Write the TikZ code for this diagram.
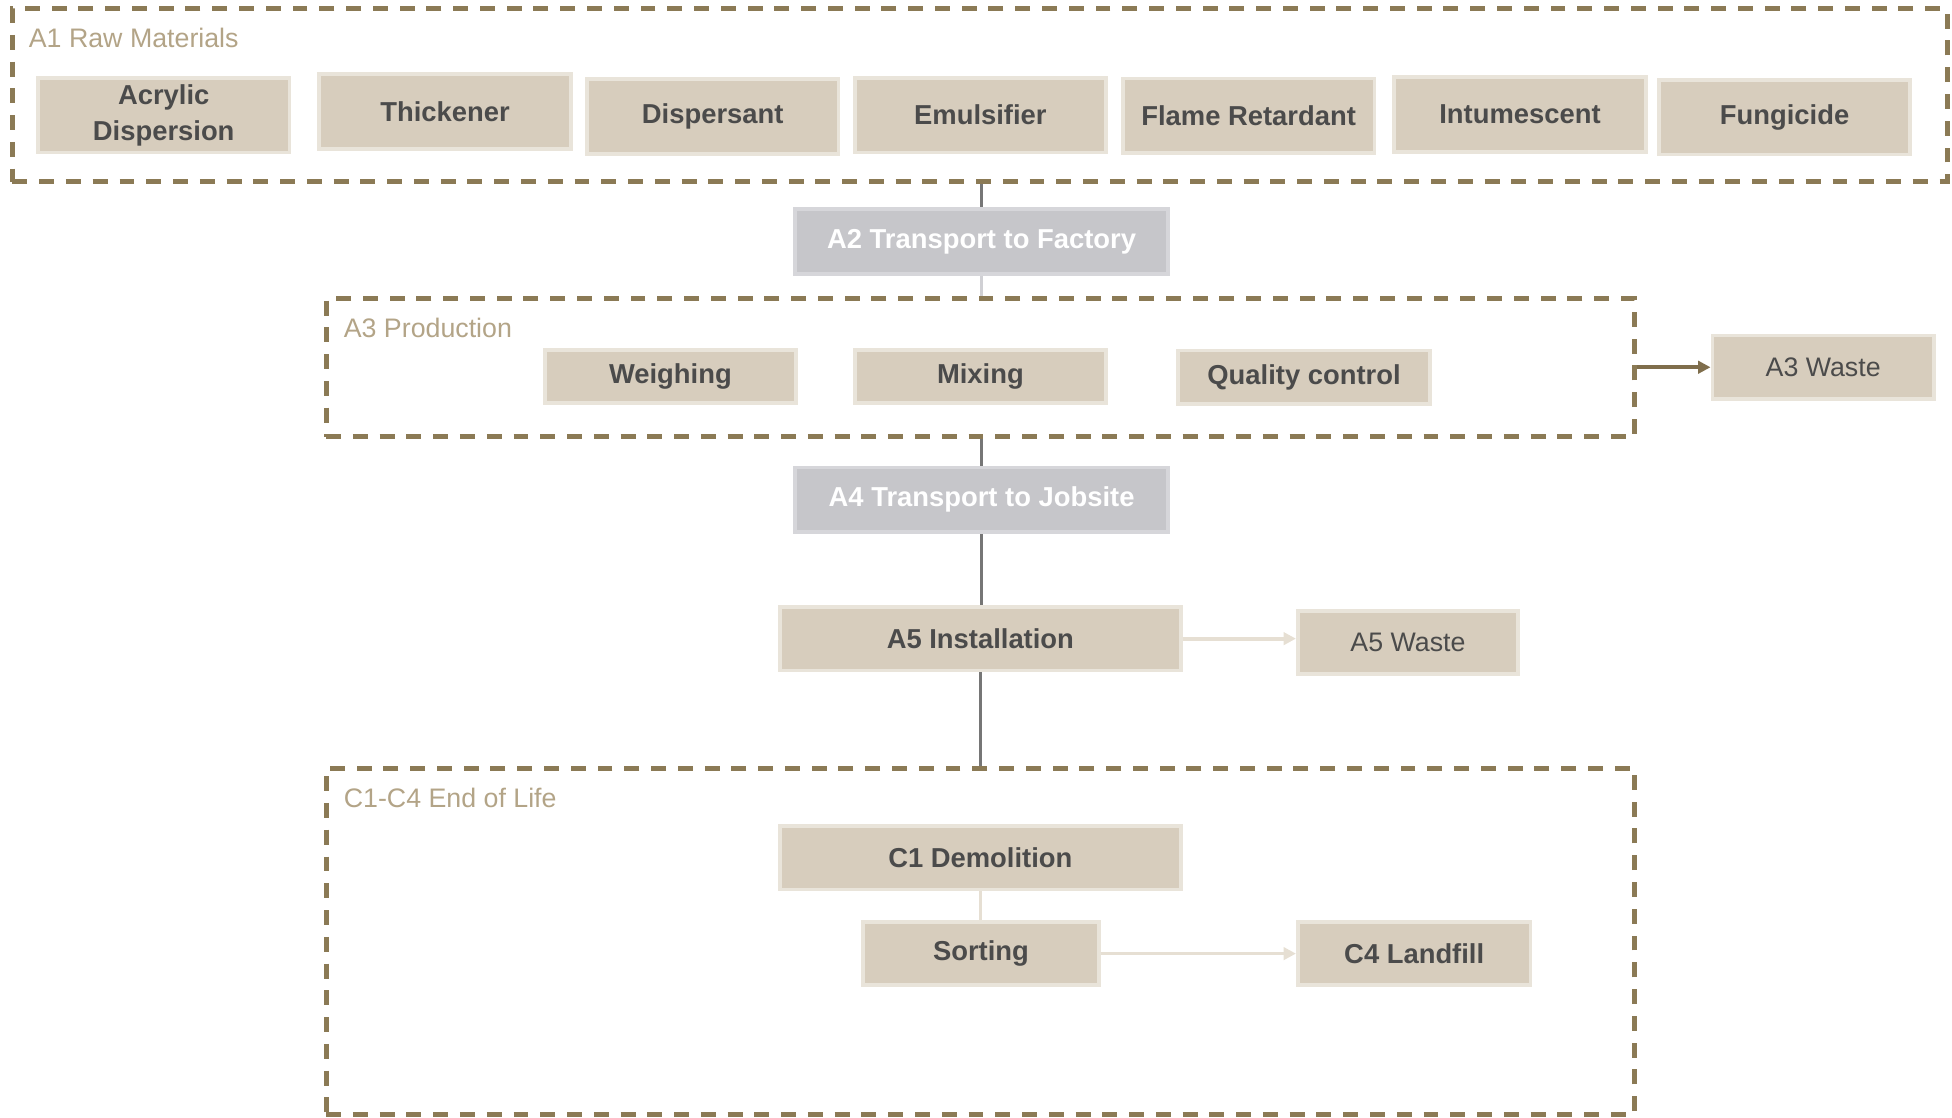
\documentclass[tikz,border=0pt]{standalone}
\usepackage{fontspec}
\setmainfont{Liberation Sans}
\usetikzlibrary{arrows.meta,backgrounds}
\definecolor{frameC}{HTML}{8B7A55}
\definecolor{labelC}{HTML}{B3A487}
\definecolor{boxfill}{HTML}{D7CDBD}
\definecolor{boxedge}{HTML}{E9E4DA}
\definecolor{textdark}{HTML}{4B4B4B}
\definecolor{grayfill}{HTML}{C6C6CA}
\definecolor{grayedge}{HTML}{D6D6DA}
\definecolor{darkline}{HTML}{767676}
\definecolor{lightgrayline}{HTML}{D0D0D4}
\definecolor{lighttanline}{HTML}{E6DFD3}
\definecolor{wasteline}{HTML}{7F6E4C}
\tikzset{
  frame/.style={draw=frameC, line width=4pt, dash pattern=on 12pt off 9.5pt, inner sep=0pt},
  framelabel/.style={anchor=base west, text=labelC, inner sep=0pt, font=\fontsize{21.5}{24}\selectfont},
  basebox/.style={draw=boxedge, fill=boxfill, line width=3pt, inner sep=0pt, align=center, text=textdark},
  matbox/.style={basebox, font=\bfseries\fontsize{22}{29}\selectfont, minimum width=202pt, minimum height=60pt},
  boldbox/.style={basebox, font=\bfseries\fontsize{22}{29}\selectfont},
  wastebox/.style={basebox, font=\fontsize{21.5}{24}\selectfont},
  graybox/.style={draw=grayedge, fill=grayfill, line width=3pt, inner sep=0pt, text=white, font=\bfseries\fontsize{22}{24}\selectfont, minimum width=300pt, minimum height=52pt},
  darkconn/.style={draw=darkline, line width=3pt},
  lightconn/.style={draw=lightgrayline, line width=3pt},
  tanconn/.style={draw=lighttanline, line width=3pt, -{Triangle[length=10pt,width=10pt]}},
  tanplain/.style={draw=lighttanline, line width=2pt},
  wasteconn/.style={draw=wasteline, line width=3pt, -{Triangle[length=10pt,width=10pt]}}
}
\begin{document}
\begin{tikzpicture}[x=1pt,y=-1pt]
\useasboundingbox (0,0) rectangle (1568,898);
% frames
\node[frame, minimum width=1554pt, minimum height=139pt] (A1) at (787,76.5) {};
\node[framelabel] (A1l) at (23,38) {A1 Raw Materials};
\node[frame, minimum width=1051pt, minimum height=111pt] (A3) at (787.5,295.5) {};
\node[framelabel] (A3l) at (276,271) {A3 Production};
\node[frame, minimum width=1051pt, minimum height=278pt] (C) at (787.5,756) {};
\node[framelabel] (Cl) at (276,649) {C1-C4 End of Life};
% raw materials
\node[matbox] (acr) at (131.5,92.5) {Acrylic\\Dispersion};
\node[matbox] (thi) at (357.5,89.5) {Thickener};
\node[matbox] (dis) at (572.5,93.5) {Dispersant};
\node[matbox] (emu) at (787.5,92.5) {Emulsifier};
\node[matbox] (fla) at (1003,93) {Flame Retardant};
\node[matbox] (int) at (1221,92) {Intumescent};
\node[matbox] (fun) at (1433.5,94) {Fungicide};
% transport
\node[graybox] (A2) at (788.5,194) {A2 Transport to Factory};
\node[graybox] (A4) at (788.5,401.5) {A4 Transport to Jobsite};
% production
\node[boldbox, minimum width=202pt, minimum height=43pt] (wei) at (538.5,302.5) {Weighing};
\node[boldbox, minimum width=202pt, minimum height=43pt] (mix) at (787.5,302.5) {Mixing};
\node[boldbox, minimum width=202pt, minimum height=43pt] (qc) at (1047.5,303) {Quality control};
\node[wastebox, minimum width=178pt, minimum height=51pt] (A3w) at (1464.5,295) {A3 Waste};
% installation
\node[boldbox, minimum width=322pt, minimum height=51pt] (A5) at (787.5,513) {A5 Installation};
\node[wastebox, minimum width=177pt, minimum height=51pt] (A5w) at (1131,516) {A5 Waste};
% end of life
\node[boldbox, minimum width=322pt, minimum height=51pt] (C1) at (787.5,689) {C1 Demolition};
\node[boldbox, minimum width=189pt, minimum height=51pt] (sor) at (788,766) {Sorting};
\node[boldbox, minimum width=187pt, minimum height=51pt] (C4) at (1136,766) {C4 Landfill};
% connectors
\begin{scope}[on background layer]
\draw[darkconn] (A2.north |- A1.south) -- (A2.north);
\draw[lightconn] (A2.south) -- (A2.south |- A3.north);
\draw[darkconn] (A4.north |- A3.south) -- (A4.north);
\draw[darkconn] (A4.south) -- (A5.north -| A4.south);
\draw[darkconn] (A5.south) -- (A5.south |- C.north);
\draw[tanplain] (C1.south) -- (sor.north -| C1.south);
\end{scope}
\draw[wasteconn] (A3.east |- A3w.west) -- (A3w.west);
\draw[tanconn] (A5.east |- 0,513) -- (A5w.west |- 0,513);
\draw[tanconn] (sor.east) -- (C4.west);
\end{tikzpicture}
\end{document}
